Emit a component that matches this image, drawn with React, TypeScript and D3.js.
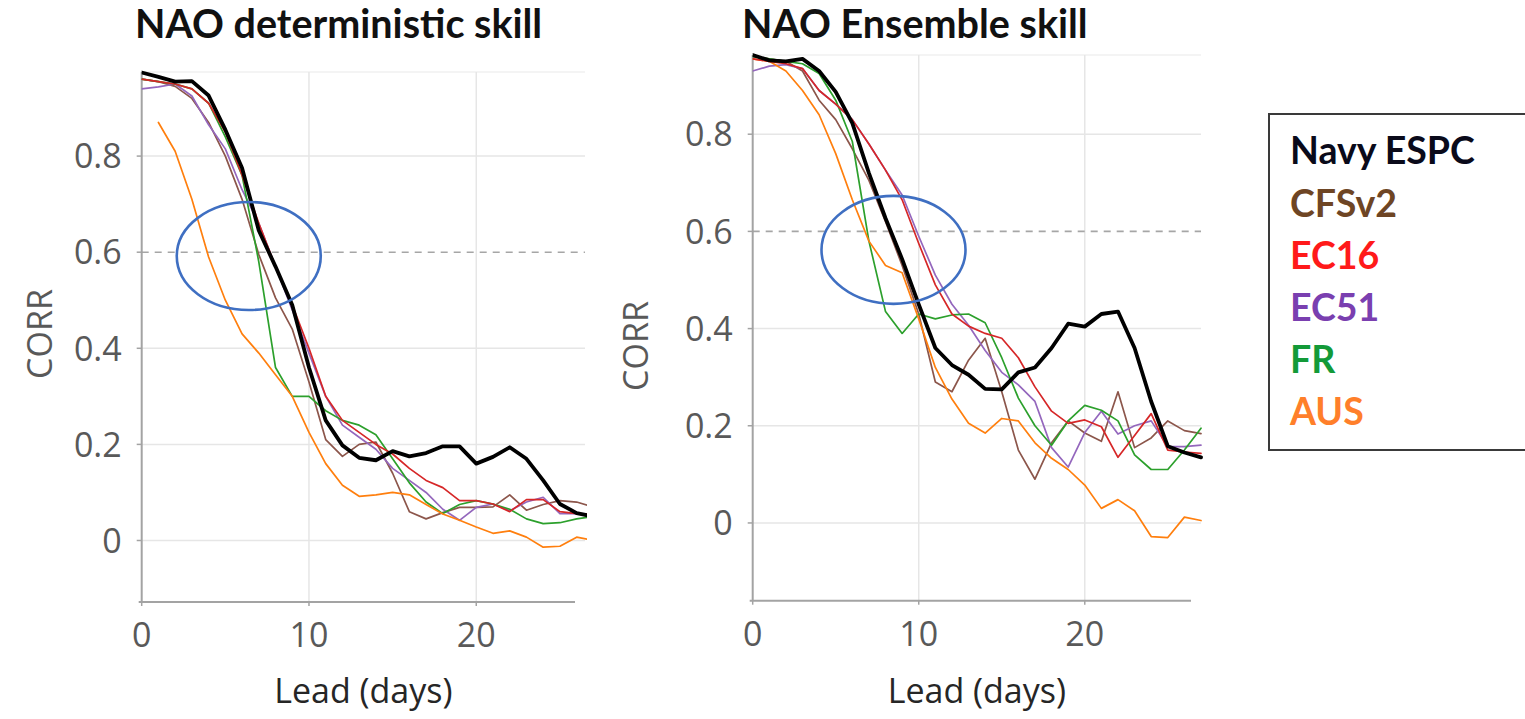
import React from "react";
import * as d3 from "d3";

// Lead time in days (one value per day)
const LEAD_DAYS = [0, 1, 2, 3, 4, 5, 6, 7, 8, 9, 10, 11, 12, 13, 14, 15, 16, 17, 18, 19, 20, 21, 22, 23, 24, 25, 26, 27];

const MODEL_NAMES = ["Navy ESPC", "CFSv2", "EC16", "EC51", "FR", "AUS"];
const LINE_COLORS = ["#000000", "#8c564b", "#d62728", "#9467bd", "#2ca02c", "#ff7f0e"];
const LEGEND_COLORS = ["#0a0a1a", "#6e4524", "#ff1a1a", "#7a3fb0", "#139a38", "#ff7f2a"];

// NAO deterministic skill (correlation) by lead day
const DET_NAVY = [0.974, 0.965, 0.955, 0.956, 0.926, 0.855, 0.775, 0.645, 0.57, 0.49, 0.36, 0.25, 0.198, 0.172, 0.167, 0.186, 0.175, 0.182, 0.196, 0.196, 0.16, 0.174, 0.194, 0.17, 0.125, 0.076, 0.057, 0.05];
const DET_CFS = [0.96, 0.955, 0.945, 0.92, 0.87, 0.8, 0.71, 0.595, 0.505, 0.44, 0.33, 0.21, 0.175, 0.2, 0.205, 0.14, 0.06, 0.045, 0.058, 0.069, 0.069, 0.07, 0.095, 0.063, 0.075, 0.083, 0.08, 0.07];
const DET_EC16 = [0.96, 0.955, 0.95, 0.94, 0.91, 0.85, 0.76, 0.66, 0.57, 0.49, 0.4, 0.3, 0.25, 0.225, 0.2, 0.18, 0.15, 0.125, 0.11, 0.083, 0.083, 0.076, 0.06, 0.085, 0.085, 0.06, 0.056, 0.055];
const DET_EC51 = [0.94, 0.944, 0.95, 0.925, 0.865, 0.815, 0.73, 0.66, 0.57, 0.48, 0.39, 0.3, 0.24, 0.215, 0.19, 0.15, 0.125, 0.1, 0.065, 0.042, 0.069, 0.076, 0.062, 0.08, 0.09, 0.056, 0.056, 0.055];
const DET_FR = [0.96, 0.955, 0.95, 0.94, 0.91, 0.84, 0.76, 0.58, 0.36, 0.3, 0.3, 0.27, 0.25, 0.24, 0.22, 0.17, 0.12, 0.08, 0.056, 0.075, 0.083, 0.076, 0.065, 0.045, 0.035, 0.037, 0.045, 0.05];
const DET_AUS = [null, 0.87, 0.81, 0.71, 0.59, 0.5, 0.43, 0.39, 0.345, 0.3, 0.225, 0.16, 0.115, 0.092, 0.095, 0.1, 0.095, 0.075, 0.055, 0.042, 0.028, 0.015, 0.02, 0.007, -0.014, -0.012, 0.007, 0.0];

// NAO ensemble-mean skill (correlation) by lead day
const ENS_NAVY = [0.963, 0.952, 0.95, 0.955, 0.93, 0.887, 0.823, 0.72, 0.627, 0.543, 0.45, 0.36, 0.325, 0.305, 0.276, 0.275, 0.31, 0.32, 0.36, 0.41, 0.404, 0.43, 0.435, 0.36, 0.25, 0.158, 0.145, 0.135];
const ENS_CFS = [0.96, 0.955, 0.95, 0.93, 0.87, 0.83, 0.77, 0.705, 0.62, 0.53, 0.43, 0.29, 0.27, 0.335, 0.38, 0.27, 0.15, 0.09, 0.165, 0.21, 0.185, 0.168, 0.27, 0.155, 0.175, 0.21, 0.19, 0.184];
const ENS_EC16 = [0.955, 0.95, 0.945, 0.935, 0.89, 0.862, 0.83, 0.78, 0.726, 0.665, 0.575, 0.49, 0.43, 0.405, 0.39, 0.38, 0.34, 0.28, 0.23, 0.205, 0.212, 0.198, 0.135, 0.18, 0.225, 0.15, 0.146, 0.143];
const ENS_EC51 = [0.93, 0.94, 0.943, 0.935, 0.89, 0.862, 0.83, 0.78, 0.726, 0.675, 0.59, 0.51, 0.45, 0.407, 0.355, 0.31, 0.284, 0.25, 0.155, 0.115, 0.186, 0.23, 0.183, 0.2, 0.21, 0.157, 0.157, 0.16];
const ENS_FR = [0.96, 0.955, 0.95, 0.945, 0.925, 0.87, 0.785, 0.58, 0.435, 0.39, 0.43, 0.42, 0.428, 0.43, 0.412, 0.34, 0.257, 0.2, 0.16, 0.21, 0.242, 0.232, 0.21, 0.14, 0.11, 0.11, 0.15, 0.195];
const ENS_AUS = [0.955, 0.95, 0.93, 0.89, 0.84, 0.76, 0.665, 0.58, 0.53, 0.515, 0.42, 0.32, 0.255, 0.205, 0.185, 0.215, 0.21, 0.165, 0.133, 0.11, 0.078, 0.03, 0.048, 0.025, -0.028, -0.03, 0.012, 0.005];

const Y_TICKS = [0, 0.2, 0.4, 0.6, 0.8];
const Y_TICK_LABELS = ["0", "0.2", "0.4", "0.6", "0.8"];
const X_TICKS = [0, 10, 20];
const REFERENCE_LEVEL = 0.6;

type Series = (number | null)[];

interface PanelSpec {
  id: string;
  title: string;
  titleX: number;
  series: Series[];
  xDomain: [number, number];
  xRange: [number, number];
  yDomain: [number, number];
  yRange: [number, number];
  corrX: number;
  corrY: number;
  circle: { day: number; corr: number; rx: number; ry: number };
}

const PANELS: PanelSpec[] = [
  {
    id: "det",
    title: "NAO deterministic skill",
    titleX: 135,
    series: [DET_NAVY, DET_CFS, DET_EC16, DET_EC51, DET_FR, DET_AUS],
    xDomain: [0, 26.5],
    xRange: [141.7, 585],
    yDomain: [-0.128, 0.975],
    yRange: [602, 72],
    corrX: 40,
    corrY: 334,
    circle: { day: 6.4, corr: 0.592, rx: 72, ry: 54 },
  },
  {
    id: "ens",
    title: "NAO Ensemble skill",
    titleX: 742,
    series: [ENS_NAVY, ENS_CFS, ENS_EC16, ENS_EC51, ENS_FR, ENS_AUS],
    xDomain: [0, 27],
    xRange: [752.7, 1201],
    yDomain: [-0.16, 0.963],
    yRange: [600.7, 55],
    corrX: 636,
    corrY: 346,
    circle: { day: 8.48, corr: 0.562, rx: 72, ry: 54 },
  },
];

const TICK_FONT = "'Open Sans', 'DejaVu Sans', sans-serif";
const TITLE_FONT = "Lato, 'Open Sans', sans-serif";
const GRID = "#e6e6e6";
const AXIS = "#a3a3a3";
const TICK_TEXT = "#595959";

// draw order: thin model lines first, thick Navy ESPC line on top
const DRAW_ORDER = [1, 3, 4, 5, 2, 0];

function Panel({ p }: { p: PanelSpec }) {
  const x = d3.scaleLinear().domain(p.xDomain).range(p.xRange);
  const y = d3.scaleLinear().domain(p.yDomain).range(p.yRange);
  const [x0, x1] = p.xRange;
  const [yBottom, yTop] = p.yRange;
  const line = d3
    .line<number | null>()
    .defined((v) => v !== null)
    .x((_, i) => x(LEAD_DAYS[i]))
    .y((v) => y(v as number));
  const clipId = `clip-${p.id}`;
  const axisEnd = x1 - 10;

  return (
    <g>
      <defs>
        <clipPath id={clipId}>
          <rect x={x0} y={yTop - 3} width={x1 - x0 + 2} height={yBottom - yTop + 3} />
        </clipPath>
      </defs>
      <text x={p.titleX} y={38} fontFamily={TITLE_FONT} fontWeight={700} fontSize={39.5} fill="#111">
        {p.title}
      </text>
      {/* grid */}
      <line x1={x0} x2={x1} y1={yTop} y2={yTop} stroke="#f0f0f0" strokeWidth={1.5} />
      {Y_TICKS.map((t) =>
        t === REFERENCE_LEVEL ? null : (
          <line key={`gy${t}`} x1={x0} x2={x1} y1={y(t)} y2={y(t)} stroke={GRID} strokeWidth={1.5} />
        )
      )}
      {X_TICKS.filter((t) => t > 0).map((t) => (
        <line key={`gx${t}`} x1={x(t)} x2={x(t)} y1={yTop} y2={yBottom} stroke={GRID} strokeWidth={1.5} />
      ))}
      <line
        x1={x0}
        x2={x1}
        y1={y(REFERENCE_LEVEL)}
        y2={y(REFERENCE_LEVEL)}
        stroke="#a6a6a6"
        strokeWidth={1.6}
        strokeDasharray="7 6"
      />
      {/* axes */}
      <line x1={x0} x2={x0} y1={yTop} y2={yBottom} stroke={AXIS} strokeWidth={2} />
      <line x1={x0 - 3} x2={axisEnd} y1={yBottom} y2={yBottom} stroke={AXIS} strokeWidth={2} />
      {Y_TICKS.map((t) => (
        <line key={`ty${t}`} x1={x0 - 5} x2={x0} y1={y(t)} y2={y(t)} stroke={AXIS} strokeWidth={1.5} />
      ))}
      {X_TICKS.map((t) => (
        <line key={`tx${t}`} x1={x(t)} x2={x(t)} y1={yBottom} y2={yBottom + 4} stroke={AXIS} strokeWidth={1.5} />
      ))}
      {Y_TICKS.map((t, i) => (
        <text
          key={`ly${t}`}
          x={x0 - 20}
          y={y(t)}
          dy="0.36em"
          textAnchor="end"
          fontFamily={TICK_FONT}
          fontSize={34}
          fill={TICK_TEXT}
        >
          {Y_TICK_LABELS[i]}
        </text>
      ))}
      {X_TICKS.map((t) => (
        <text
          key={`lx${t}`}
          x={x(t)}
          y={yBottom + 45}
          textAnchor="middle"
          fontFamily={TICK_FONT}
          fontSize={34}
          fill={TICK_TEXT}
        >
          {t}
        </text>
      ))}
      <text
        transform={`translate(${p.corrX},${p.corrY}) rotate(-90)`}
        textAnchor="middle"
        dy="0.36em"
        fontFamily={TICK_FONT}
        fontSize={34}
        fill={TICK_TEXT}
      >
        CORR
      </text>
      <text
        x={(x0 + x1) / 2}
        y={703}
        textAnchor="middle"
        fontFamily={TICK_FONT}
        fontSize={34}
        fill="#262626"
      >
        Lead (days)
      </text>
      {/* model skill curves */}
      <g clipPath={`url(#${clipId})`}>
        {DRAW_ORDER.map((k) => (
          <path
            key={MODEL_NAMES[k]}
            d={line(p.series[k]) ?? ""}
            fill="none"
            stroke={LINE_COLORS[k]}
            strokeWidth={k === 0 ? 3.8 : 1.7}
            strokeLinejoin="round"
            strokeLinecap="round"
          />
        ))}
      </g>
      {/* highlight where skill drops through 0.6 */}
      <ellipse
        cx={x(p.circle.day)}
        cy={y(p.circle.corr)}
        rx={p.circle.rx}
        ry={p.circle.ry}
        fill="none"
        stroke="#3f6fc2"
        strokeWidth={2.6}
      />
    </g>
  );
}

function Legend() {
  const left = 1269;
  const top = 114;
  const baselines = [164, 217, 269, 321, 373, 425];
  return (
    <g>
      <rect x={left} y={top} width={280} height={336} fill="#fff" stroke="#3a3a3a" strokeWidth={2} />
      {MODEL_NAMES.map((name, i) => (
        <text
          key={name}
          x={1290}
          y={baselines[i]}
          fontFamily={TITLE_FONT}
          fontWeight={700}
          fontSize={37.5}
          fill={LEGEND_COLORS[i]}
        >
          {name}
        </text>
      ))}
    </g>
  );
}

export default function App() {
  return (
    <svg
      width={1525}
      height={719}
      viewBox="0 0 1525 719"
      style={{ position: "fixed", left: 0, top: 0, background: "#fff" }}
    >
      <rect x={0} y={0} width={1525} height={719} fill="#fff" />
      {PANELS.map((p) => (
        <Panel key={p.id} p={p} />
      ))}
      <Legend />
    </svg>
  );
}
